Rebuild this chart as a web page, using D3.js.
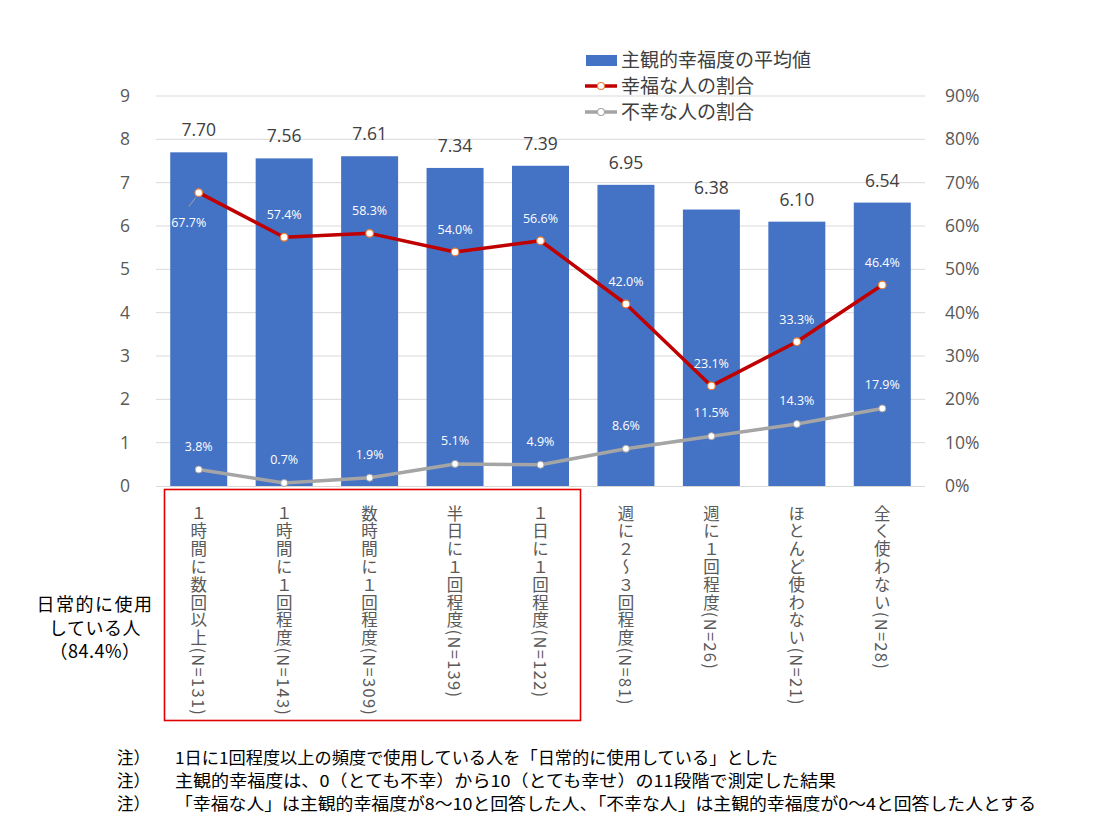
<!DOCTYPE html>
<html><head><meta charset="utf-8">
<script src="https://cdn.jsdelivr.net/npm/d3@7"></script>
<style>
body{margin:0;background:#fff;}
text{font-family:"Noto Sans CJK JP","Noto Sans",sans-serif;}
</style></head>
<body><svg id="c" width="1120" height="827"></svg>
<script>
const categories = ["１時間に数回以上(N=131)","１時間に１回程度(N=143)","数時間に１回程度(N=309)","半日に１回程度(N=139)","１日に１回程度(N=122)","週に２～３回程度(N=81)","週に１回程度(N=26)","ほとんど使わない(N=21)","全く使わない(N=28)"];
const meanScore = [7.70,7.56,7.61,7.34,7.39,6.95,6.38,6.10,6.54];
const happyPct = [67.7,57.4,58.3,54.0,56.6,42.0,23.1,33.3,46.4];
const unhappyPct = [3.8,0.7,1.9,5.1,4.9,8.6,11.5,14.3,17.9];
const leftTicks = [0,1,2,3,4,5,6,7,8,9];
const rightTicks = [0,10,20,30,40,50,60,70,80,90];
const legendLabels = ["主観的幸福度の平均値","幸福な人の割合","不幸な人の割合"];
const groupLabel = ["日常的に使用","している人","（84.4%）"];
const notes = ["1日に1回程度以上の頻度で使用している人を「日常的に使用している」とした","主観的幸福度は、0（とても不幸）から10（とても幸せ）の11段階で測定した結果","「幸福な人」は主観的幸福度が8～10と回答した人、「不幸な人」は主観的幸福度が0～4と回答した人とする"];

const svg = d3.select("#c");
const L=156, R=925, T=96, B=486;
const x = d3.scaleBand().domain(categories).range([L,R]).paddingInner(0.333).paddingOuter(0.1665);
const yL = d3.scaleLinear().domain([0,9]).range([B,T]);
const yR = d3.scaleLinear().domain([0,90]).range([B,T]);
const tickCol="#595959";
const numFont="'Open Sans','Noto Sans',sans-serif";

// gridlines
svg.append("g").selectAll("line").data(leftTicks.slice(1)).join("line")
  .attr("x1",L).attr("x2",R).attr("y1",d=>yL(d)).attr("y2",d=>yL(d))
  .attr("stroke","#d9d9d9").attr("stroke-width",1);

// left axis
const ga = svg.append("g").attr("transform",`translate(${L},0)`)
  .call(d3.axisLeft(yL).tickValues(leftTicks).tickSize(0).tickPadding(26));
ga.select(".domain").remove();
ga.selectAll("text").attr("fill",tickCol).style("font-size","17.5px").style("font-family",numFont);
// right axis
const gr = svg.append("g").attr("transform",`translate(${R},0)`)
  .call(d3.axisRight(yR).tickValues(rightTicks).tickSize(0).tickPadding(20).tickFormat(d=>d+"%"));
gr.select(".domain").remove();
gr.selectAll("text").attr("fill",tickCol).style("font-size","17.5px").style("font-family",numFont);

// bars
svg.append("g").selectAll("rect").data(meanScore).join("rect")
  .attr("x",(d,i)=>x(categories[i])).attr("width",x.bandwidth())
  .attr("y",d=>yL(d)).attr("height",d=>B-yL(d)).attr("fill","#4472C4");
// baseline
svg.append("line").attr("x1",L).attr("x2",R).attr("y1",B+0.5).attr("y2",B+0.5).attr("stroke","#d9d9d9");

// bar value labels
svg.append("g").selectAll("text").data(meanScore).join("text")
  .attr("x",(d,i)=>x(categories[i])+x.bandwidth()/2).attr("y",d=>yL(d)-16)
  .attr("text-anchor","middle").attr("fill","#404040").style("font-size","17.5px")
  .style("font-family",numFont)
  .text(d=>d.toFixed(2));

const cx = i=>x(categories[i])+x.bandwidth()/2;
function drawLine(data,color){
  const line = d3.line().x((d,i)=>cx(i)).y(d=>yR(d));
  svg.append("path").datum(data).attr("d",line).attr("fill","none")
    .attr("stroke",color).attr("stroke-width",3.5).attr("stroke-linejoin","round");
}
drawLine(unhappyPct,"#A5A5A5");
drawLine(happyPct,"#C00000");
svg.append("g").selectAll("circle").data(unhappyPct).join("circle")
  .attr("cx",(d,i)=>cx(i)).attr("cy",d=>yR(d)).attr("r",3.5)
  .attr("fill","#fff").attr("stroke","#A5A5A5").attr("stroke-width",1);
svg.append("g").selectAll("circle").data(happyPct).join("circle")
  .attr("cx",(d,i)=>cx(i)).attr("cy",d=>yR(d)).attr("r",3.8)
  .attr("fill","#fff").attr("stroke","#ED7D31").attr("stroke-width",1.2);

// line labels
svg.append("line").attr("x1",cx(0)-3).attr("y1",yR(happyPct[0])+5)
  .attr("x2",cx(0)-10).attr("y2",yR(happyPct[0])+14).attr("stroke","#A5A5A5").attr("stroke-width",1);
svg.append("g").selectAll("text").data(happyPct).join("text")
  .attr("x",(d,i)=>i===0?cx(i)-10:cx(i))
  .attr("y",(d,i)=>i===0?yR(d)+34:yR(d)-18)
  .attr("text-anchor","middle").attr("fill","#fff").style("font-size","12.5px")
  .style("font-family",numFont)
  .text(d=>d.toFixed(1)+"%");
svg.append("g").selectAll("text").data(unhappyPct).join("text")
  .attr("x",(d,i)=>cx(i)).attr("y",d=>yR(d)-19)
  .attr("text-anchor","middle").attr("fill","#fff").style("font-size","12.5px")
  .style("font-family",numFont)
  .text(d=>d.toFixed(1)+"%");

// category labels (vertical)
svg.append("g").selectAll("text").data(categories).join("text")
  .attr("x",(d)=>x(d)+x.bandwidth()/2).attr("y",505)
  .style("writing-mode","vertical-rl").attr("text-anchor","start")
  .attr("fill",tickCol).style("font-size","16.5px").style("letter-spacing","1.3px")
  .text(d=>d);

// red box
svg.append("rect").attr("x",164.5).attr("y",489.5).attr("width",416).attr("height",231)
  .attr("fill","none").attr("stroke","#E00000").attr("stroke-width",1.6);

// group label
svg.append("g").selectAll("text").data(groupLabel).join("text")
  .attr("x",95).attr("y",(d,i)=>611+i*23.5).attr("text-anchor","middle")
  .attr("fill","#000").style("font-size","18px").style("letter-spacing",(d,i)=>i===0?"1.5px":"0.5px").text(d=>d);

// legend
const lg = svg.append("g");
lg.append("rect").attr("x",586).attr("y",55).attr("width",31).attr("height",11).attr("fill","#4472C4");
[["#C00000","#ED7D31",86],["#A5A5A5","#A5A5A5",112]].forEach(([c,m,yy])=>{
  lg.append("line").attr("x1",585).attr("x2",617).attr("y1",yy).attr("y2",yy).attr("stroke",c).attr("stroke-width",3.5);
  lg.append("circle").attr("cx",601).attr("cy",yy).attr("r",3.5).attr("fill","#fff").attr("stroke",m).attr("stroke-width",1.1);
});
lg.selectAll("text").data(legendLabels).join("text")
  .attr("x",621).attr("y",(d,i)=>60+i*26).attr("dy","0.35em")
  .attr("fill","#404040").style("font-size","19px").text(d=>d);

// notes
const noteW=[603,661,861];
const ng = svg.append("g");
notes.forEach((t,i)=>{
  ng.append("text").attr("x",117).attr("y",764+i*23).attr("fill","#000").style("font-size","16.5px").text("注）");
  ng.append("text").attr("x",175).attr("y",764+i*23).attr("fill","#000").style("font-size","16.5px")
    .attr("textLength",noteW[i]).attr("lengthAdjust","spacingAndGlyphs").text(t);
});
</script></body></html>
